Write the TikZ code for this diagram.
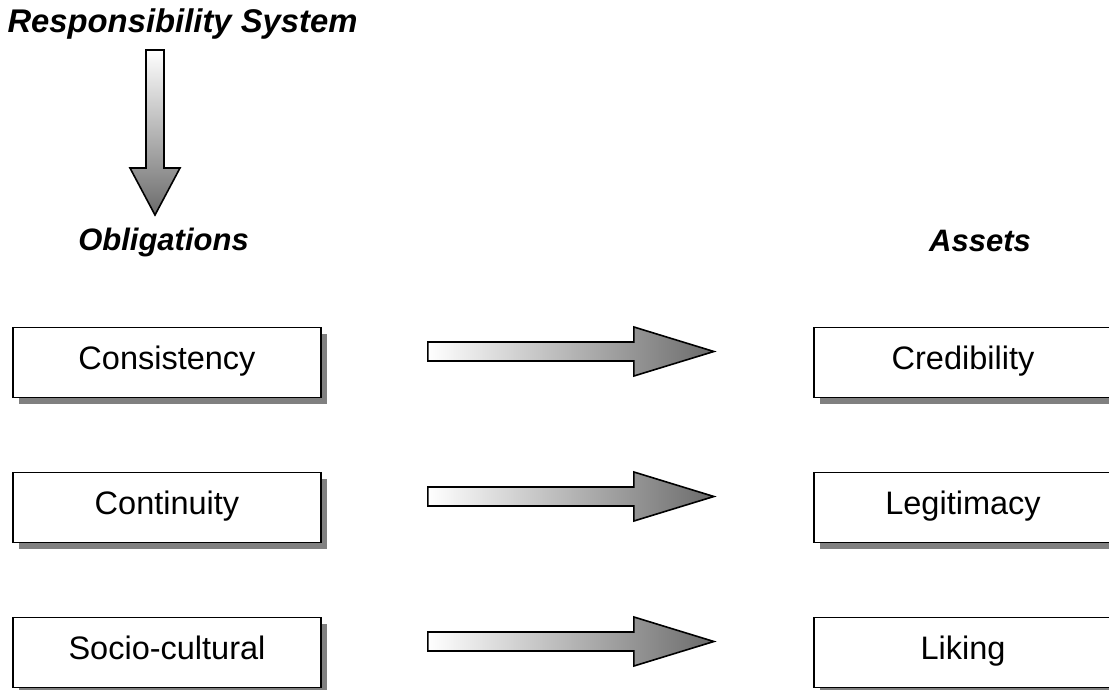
\documentclass[tikz,border=0pt]{standalone}
\usepackage{fontspec}
\setmainfont{Liberation Sans}
\usetikzlibrary{shadows,calc}

\tikzset{
  box/.style={draw=black, line width=1.8pt, fill=white,
    minimum width=308pt, minimum height=70pt, inner sep=0pt,
    text height=26pt, text depth=12pt,
    font=\fontsize{32.5}{38}\selectfont,
    drop shadow={shadow xshift=6pt, shadow yshift=-6pt, fill=black!50, opacity=1}},
  heading/.style={anchor=base, inner sep=0pt,
    font=\fontsize{31}{37}\selectfont\bfseries\itshape},
  blockarrow/.pic={
    \shadedraw[left color=white, right color=black!58, line width=1.6pt, line join=miter]
      (0,-9.5) -- (206,-9.5) -- (206,-24.5) -- (286,0) -- (206,24.5)
      -- (206,9.5) -- (0,9.5) -- cycle;
  }
}

\begin{document}
\begin{tikzpicture}[x=1pt, y=-1pt]
\useasboundingbox (0,0) rectangle (1109,690);

% headings
\node[heading, font=\fontsize{32.8}{38}\selectfont\bfseries\itshape] (title) at (182.5,33) {Responsibility System};
\node[heading] (obl) at (163.5,250) {Obligations};
\node[heading] (ass) at (980,251) {Assets};

% downward block arrow from the system to the obligations
\coordinate (vtop) at (155,50);
\shadedraw[top color=white, bottom color=black!58, line width=1.6pt, line join=miter]
  (vtop) ++(-9,0) -- ++(0,118) -- ++(-16,0) -- ($(vtop)+(0,165)$)
  -- ($(vtop)+(25,118)$) -- ++(-16,0) -- ++(0,-118) -- cycle;

% obligations
\node[box] (cons) at (167,362.5) {Consistency};
\node[box] (cont) at (167,507.5) {Continuity};
\node[box] (soc)  at (167,652.5) {Socio-cultural};

% assets
\node[box, minimum width=298pt] (cred) at (963,362.5) {Credibility};
\node[box, minimum width=298pt] (leg)  at (963,507.5) {Legitimacy};
\node[box, minimum width=298pt] (lik)  at (963,652.5) {Liking};

% block arrows linking each obligation to its asset
\pic at ($(cons.east)+(106,-11)$) {blockarrow};
\pic at ($(cont.east)+(106,-11)$) {blockarrow};
\pic at ($(soc.east)+(106,-11)$) {blockarrow};
\end{tikzpicture}
\end{document}
